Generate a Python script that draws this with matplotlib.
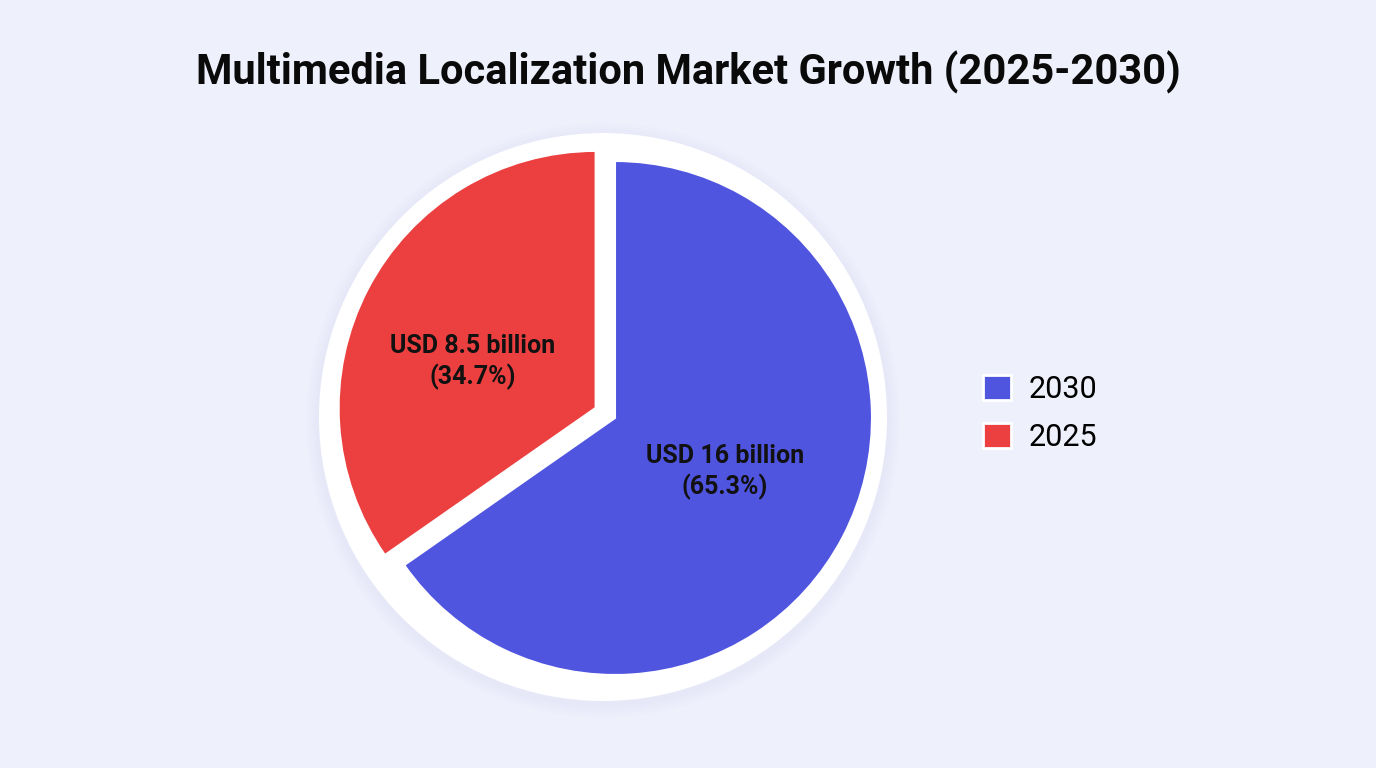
import matplotlib
matplotlib.use("Agg")
import matplotlib.pyplot as plt
from matplotlib.patches import Circle, Patch
import numpy as np

# Data
years = ["2030", "2025"]
values_bn = [16.0, 8.5]
shares = [65.3, 34.7]
colors = ["#5055E0", "#EC4040"]
title = "Multimedia Localization Market Growth (2025-2030)"

W, H = 1376, 768
bg = "#EEF0FC"
fig = plt.figure(figsize=(W / 100, H / 100), dpi=100, facecolor=bg)

# pie axes: centre at (615, 418) px, radius 257 px
cx, cy, R = 615, 418, 257
half = 310
ax = fig.add_axes([(cx - half) / W, (H - cy - half) / H, 2 * half / W, 2 * half / H])
lim = half / R

# white disc with soft shadow
dcx, dcy, dR = (603 - cx) / R, (cy - 417) / R, 284 / R
for i, a in enumerate([0.05, 0.05, 0.05, 0.06]):
    ax.add_patch(Circle((dcx, dcy - 0.012), dR + 0.05 - i * 0.012, facecolor="#C9CCF2",
                        alpha=a, edgecolor="none", zorder=0))
ax.add_patch(Circle((dcx, dcy), dR, facecolor="white", edgecolor="none", zorder=1))

labels_txt = [f"USD {v:g} billion\n({s}%)" for v, s in zip(values_bn, shares)]
wedges, _ = ax.pie(shares, colors=colors, startangle=90, counterclock=False,
                   explode=[0, 0.085], radius=1.0, center=(0, 0), frame=True,
                   wedgeprops=dict(edgecolor="white", linewidth=1.5, zorder=2))
ax.set_xlim(-lim, lim)
ax.set_ylim(-lim, lim)
ax.set_aspect("equal")
ax.axis("off")

for w, txt, d, da in zip(wedges, labels_txt, [0.477, 0.51], [1.4, 7.0]):
    ang = np.deg2rad((w.theta1 + w.theta2) / 2 + da)
    x = w.center[0] + d * np.cos(ang)
    y = w.center[1] + d * np.sin(ang)
    ax.text(x, y, txt, ha="center", va="center", fontsize=18, fontweight="bold",
            family="Roboto", color="#111111", linespacing=1.25, zorder=5)

fig.text(688 / W, 1 - 72 / H, title, ha="center", va="center", fontsize=30,
         fontweight="bold", family="Roboto", color="#0A0A0A")

handles = [Patch(facecolor=c, edgecolor="white", linewidth=2) for c in colors]
fig.legend(handles, years, loc="center left", bbox_to_anchor=(983 / W, (H - 413.5) / H),
           frameon=False, borderpad=0, borderaxespad=0, handlelength=0.9, handleheight=0.9,
           handletextpad=0.6, labelspacing=0.6,
           prop={"family": "Roboto", "size": 22})

fig.savefig("out.png", dpi=100, facecolor=bg)
